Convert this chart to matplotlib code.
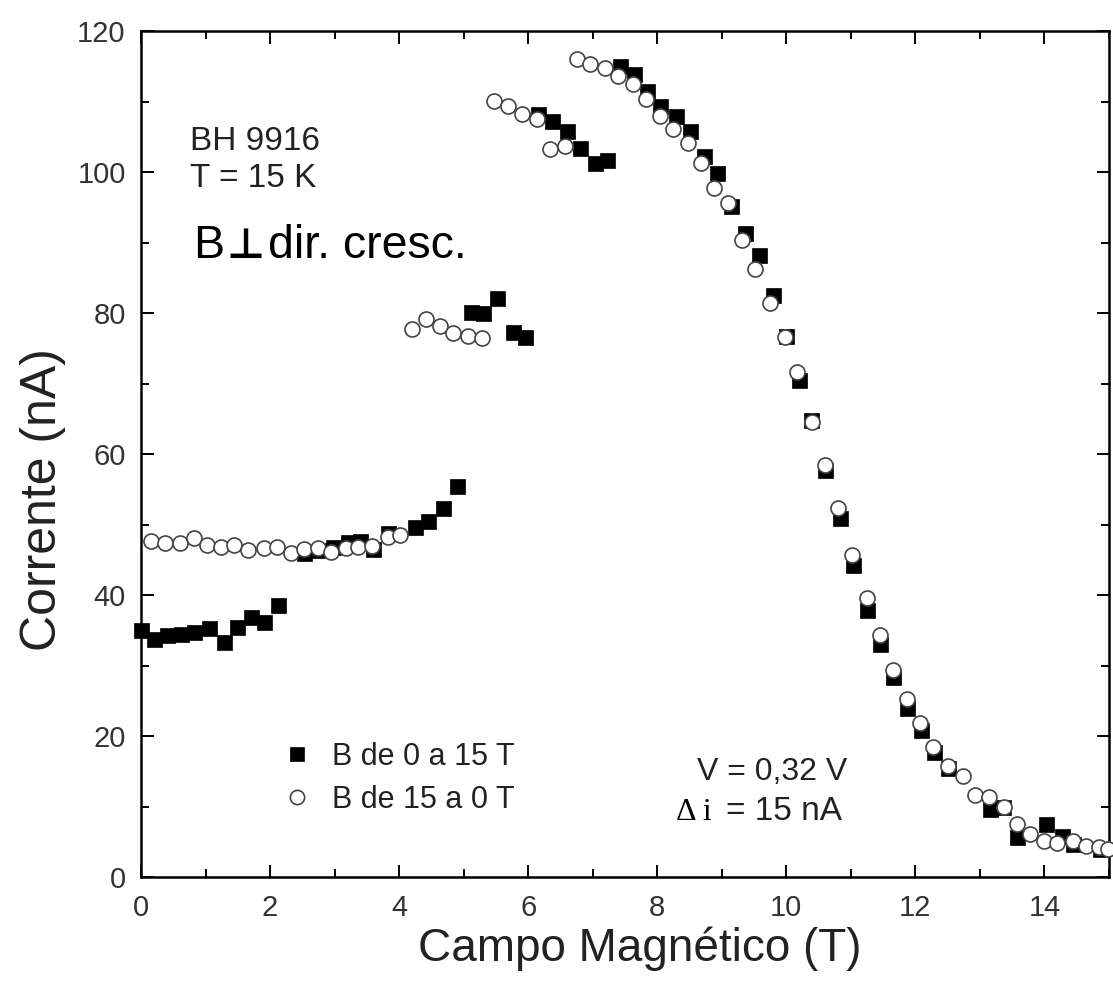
import matplotlib
matplotlib.use("Agg")
import matplotlib.pyplot as plt
from matplotlib.ticker import MultipleLocator

# Series: B from 0 to 15 T (filled squares)
up_field = [0.0, 0.2, 0.41, 0.62, 0.82, 1.05, 1.28, 1.49, 1.70, 1.91, 2.12,
            2.52, 2.76, 2.98, 3.2, 3.4, 3.6, 3.82, 4.24, 4.44, 4.68, 4.89,
            5.12, 5.3, 5.52, 5.76, 5.95,
            6.15, 6.37, 6.6, 6.8, 7.04, 7.22,
            7.42, 7.64, 7.84, 8.04, 8.29, 8.5, 8.73, 8.93, 9.15, 9.36, 9.58,
            9.8, 10.0, 10.2, 10.38, 10.6, 10.83, 11.03, 11.25, 11.45, 11.65,
            11.87, 12.08, 12.29, 12.5, 13.15, 13.35, 13.57, 14.02, 14.27,
            14.44, 14.86]
up_current = [35.1, 33.7, 34.4, 34.5, 34.8, 35.3, 33.4, 35.5, 36.9, 36.2, 38.6,
              46.0, 46.4, 46.8, 47.5, 47.6, 46.6, 48.8, 49.6, 50.5, 52.4, 55.4,
              80.1, 80.0, 82.2, 77.3, 76.6,
              108.2, 107.3, 105.8, 103.4, 101.3, 101.7,
              115.0, 113.9, 111.5, 109.4, 108.0, 105.8, 102.3, 99.8, 95.2, 91.4, 88.2,
              82.5, 76.8, 70.5, 64.8, 57.7, 50.9, 44.3, 37.9, 33.0, 28.4,
              24.0, 20.9, 17.7, 15.5, 9.6, 10.0, 5.7, 7.5, 5.8,
              4.7, 4.0]

# Series: B from 15 to 0 T (open circles)
down_field = [0.15, 0.37, 0.6, 0.82, 1.03, 1.24, 1.44, 1.66, 1.9, 2.1, 2.33,
              2.53, 2.74, 2.94, 3.17, 3.37, 3.58, 3.82, 4.02,
              4.2, 4.42, 4.64, 4.84, 5.06, 5.28,
              5.47, 5.68, 5.9, 6.13, 6.34, 6.57,
              6.76, 6.96, 7.19, 7.39, 7.62, 7.82, 8.05, 8.25, 8.47, 8.67, 8.88,
              9.1, 9.31, 9.51, 9.75, 9.98, 10.16, 10.4, 10.6, 10.8, 11.02,
              11.25, 11.45, 11.65, 11.87, 12.07, 12.28, 12.51, 12.73, 12.93,
              13.14, 13.37, 13.58, 13.78, 13.99, 14.2, 14.44, 14.64, 14.85, 14.98]
down_current = [47.6, 47.4, 47.4, 48.1, 47.1, 46.8, 47.1, 46.4, 46.7, 46.8, 46.0,
                46.6, 46.7, 46.1, 46.7, 46.8, 46.9, 48.3, 48.5,
                77.8, 79.2, 78.2, 77.1, 76.8, 76.4,
                110.1, 109.4, 108.2, 107.5, 103.3, 103.7,
                116.0, 115.3, 114.8, 113.6, 112.5, 110.4, 108.0, 106.1, 104.1, 101.3, 97.8,
                95.6, 90.3, 86.3, 81.4, 76.6, 71.6, 64.5, 58.4, 52.4, 45.7,
                39.6, 34.4, 29.4, 25.2, 21.9, 18.5, 15.7, 14.3, 11.7,
                11.3, 9.9, 7.5, 6.1, 5.1, 4.9, 5.1, 4.4, 4.2, 4.0]

x_ticks = [0, 2, 4, 6, 8, 10, 12, 14]
y_ticks = [0, 20, 40, 60, 80, 100, 120]

SANS = ['Liberation Sans', 'DejaVu Sans']
SERIF = ['Liberation Serif', 'DejaVu Serif']
plt.rcParams['font.family'] = SANS

fig = plt.figure(figsize=(11.13, 9.88), dpi=100)
ax = fig.add_axes([0.1267, 0.1123, 0.8697, 0.8563])

ax.plot(up_field, up_current, linestyle='none', marker='s', markersize=10.8,
        markerfacecolor='black', markeredgecolor='black', markeredgewidth=0.5,
        label='B de 0 a 15 T', zorder=3, clip_on=False)
ax.plot(down_field, down_current, linestyle='none', marker='o', markersize=10.8,
        markerfacecolor='white', markeredgecolor='#444444', markeredgewidth=1.2,
        label='B de 15 a 0 T', zorder=4, clip_on=False)

ax.set_xlim(0, 15)
ax.set_ylim(0, 120)
ax.set_xticks(x_ticks)
ax.set_yticks(y_ticks)
ax.xaxis.set_minor_locator(MultipleLocator(1))
ax.yaxis.set_minor_locator(MultipleLocator(10))
ax.tick_params(which='both', direction='in', top=True, right=True,
               width=1.4, colors='black', labelcolor='#333333')
ax.tick_params(which='major', length=9, labelsize=21)
ax.tick_params(axis='x', which='major', pad=12)
ax.tick_params(axis='y', which='major', pad=11)
ax.tick_params(which='minor', length=5.5)
for s in ax.spines.values():
    s.set_linewidth(1.8)

ax.set_xlabel('Campo Magnético (T)', fontsize=33, color='#222222')
ax.set_ylabel('Corrente (nA)', fontsize=36, color='#222222')
ax.xaxis.set_label_coords(0.5155, -0.058)
ax.yaxis.set_label_coords(-0.077, 0.4456)

ax.text(0.0506, 0.859, 'BH 9916', transform=ax.transAxes, fontsize=24,
        color='#222222', va='baseline')
ax.text(0.0506, 0.816, 'T = 15 K', transform=ax.transAxes, fontsize=24,
        color='#222222', va='baseline')
ax.text(0.0537, 0.7317, 'B', transform=ax.transAxes,
        fontsize=33.5, color='black', va='baseline')
ax.text(0.1075, 0.7317, '\u22a5', transform=ax.transAxes, ha='center',
        fontsize=30, color='black', va='baseline', fontweight='bold',
        family=['DejaVu Sans'])
ax.text(0.1312, 0.7317, 'dir. cresc.', transform=ax.transAxes,
        fontsize=33.5, color='black', va='baseline')

ax.text(0.574, 0.1147, 'V = 0,32 V', transform=ax.transAxes, fontsize=23,
        color='#222222', va='baseline')
ax.text(0.5527, 0.0674, '\u0394 i', transform=ax.transAxes, fontsize=23,
        color='black', va='baseline', family=SERIF)
ax.text(0.604, 0.0674, '= 15 nA', transform=ax.transAxes, fontsize=24,
        color='#222222', va='baseline')

leg = ax.legend(loc='upper left', bbox_to_anchor=(0.1457, 0.1596),
                frameon=False, fontsize=22, handlelength=1.0,
                handletextpad=0.65, labelspacing=0.42, borderpad=0,
                borderaxespad=0, markerscale=0.95)
for t in leg.get_texts():
    t.set_color('#222222')

fig.savefig('out.png', dpi=100)
